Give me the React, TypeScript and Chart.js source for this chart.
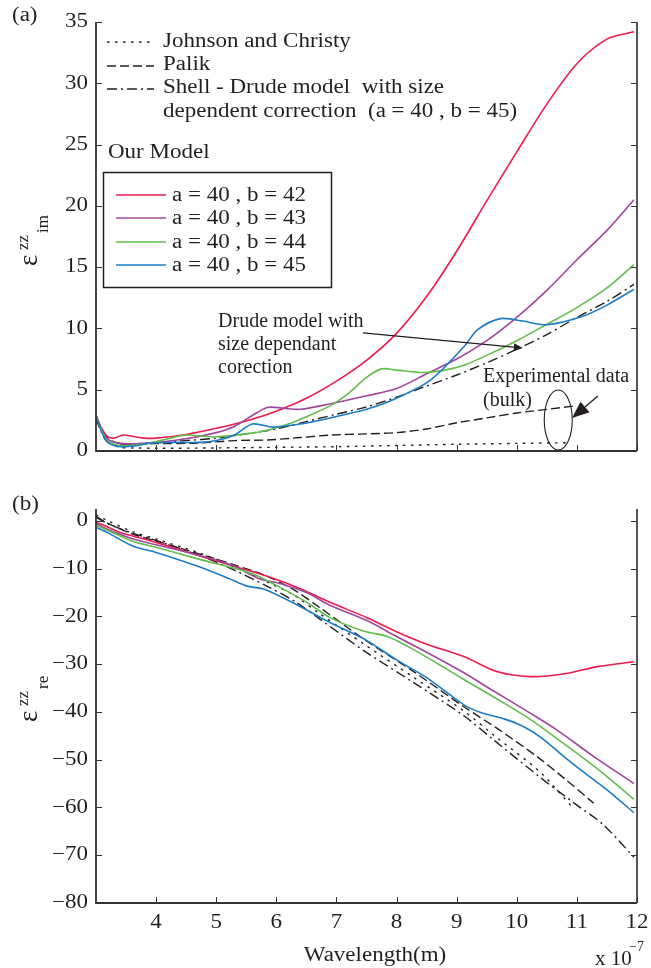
import React, { useEffect, useRef } from "react";
import { Chart, registerables } from "chart.js";

Chart.register(...registerables);

// ---------------- DATA (wavelength in units of 1e-7 m) ----------------
const xTickValues = [4, 5, 6, 7, 8, 9, 10, 11, 12];
const yTickValuesIm = [0, 5, 10, 15, 20, 25, 30, 35];
const yTickValuesRe = [-80, -70, -60, -50, -40, -30, -20, -10, 0];

// (a) imaginary part
const imB42 = [[3.0, 2.9], [3.1, 1.8], [3.2, 1.15], [3.3, 1.05], [3.45, 1.3], [3.6, 1.2], [3.8, 1.05], [4.0, 1.05], [4.5, 1.35], [5.0, 1.85], [5.5, 2.45], [6.0, 3.25], [6.5, 4.3], [7.0, 5.7], [7.5, 7.4], [8.0, 9.6], [8.5, 12.6], [9.0, 16.3], [9.5, 20.4], [10.0, 24.4], [10.5, 28.3], [11.0, 31.6], [11.5, 33.6], [11.95, 34.2]];
const imB43 = [[3.0, 2.9], [3.1, 1.7], [3.2, 0.95], [3.4, 0.62], [3.7, 0.6], [4.0, 0.7], [4.5, 1.0], [5.0, 1.5], [5.3, 2.0], [5.6, 2.9], [5.85, 3.55], [6.1, 3.5], [6.4, 3.4], [6.9, 3.85], [7.5, 4.5], [8.0, 5.1], [8.5, 6.3], [9.0, 7.5], [9.5, 9.0], [10.0, 10.9], [10.5, 13.1], [11.0, 15.6], [11.5, 18.0], [11.95, 20.5]];
const imB44 = [[3.0, 2.9], [3.1, 1.6], [3.2, 0.8], [3.4, 0.45], [3.7, 0.5], [3.9, 0.65], [4.2, 1.0], [4.5, 1.3], [4.8, 1.2], [5.0, 1.15], [5.5, 1.4], [5.85, 1.7], [6.2, 2.2], [6.5, 2.8], [6.9, 3.7], [7.2, 4.7], [7.5, 6.0], [7.75, 6.7], [8.0, 6.6], [8.45, 6.4], [8.8, 6.6], [9.12, 7.0], [9.5, 7.8], [10.0, 9.0], [10.45, 10.2], [11.0, 11.7], [11.5, 13.3], [11.95, 15.2]];
const imB45 = [[3.0, 2.9], [3.1, 1.5], [3.2, 0.7], [3.4, 0.35], [3.7, 0.45], [3.9, 0.65], [4.3, 0.7], [4.74, 0.7], [5.0, 0.85], [5.3, 1.3], [5.6, 2.2], [5.95, 1.95], [6.4, 2.2], [6.9, 2.7], [7.5, 3.4], [8.0, 4.3], [8.57, 5.8], [9.12, 8.5], [9.35, 9.9], [9.73, 10.8], [10.1, 10.6], [10.5, 10.3], [11.1, 11.0], [11.5, 11.9], [11.95, 13.2]];
const imShell = [[3.0, 2.7], [3.1, 1.4], [3.2, 0.7], [3.4, 0.5], [3.8, 0.6], [4.5, 0.85], [5.0, 1.05], [5.5, 1.4], [6.0, 1.8], [6.5, 2.4], [7.0, 3.0], [7.5, 3.6], [8.0, 4.4], [8.5, 5.3], [9.0, 6.2], [9.5, 7.2], [10.0, 8.3], [10.5, 9.5], [11.0, 10.9], [11.5, 12.2], [11.95, 13.6]];
const imPalik = [[3.0, 2.5], [3.15, 1.3], [3.3, 0.75], [3.6, 0.55], [4.0, 0.6], [4.7, 0.65], [5.3, 0.85], [5.85, 0.9], [6.4, 1.1], [6.9, 1.3], [7.5, 1.4], [8.0, 1.5], [8.5, 1.8], [9.0, 2.3], [9.5, 2.7], [10.0, 3.1], [10.5, 3.4], [11.0, 3.7]];
const imJC = [[3.2, 0.7], [3.4, 0.3], [3.7, 0.25], [4.0, 0.22], [5.0, 0.25], [6.0, 0.3], [7.0, 0.35], [8.0, 0.45], [9.0, 0.55], [10.0, 0.62], [10.9, 0.68]];

// (b) real part
const reB42 = [[3.0, -0.3], [3.2, -1.3], [3.4, -2.4], [3.62, -3.2], [4.0, -4.5], [4.74, -7.4], [5.3, -9.5], [5.85, -11.6], [6.4, -14.2], [6.9, -17.1], [7.5, -20.2], [8.0, -23.2], [8.5, -25.8], [9.12, -28.4], [9.68, -31.6], [10.23, -32.6], [10.8, -32.0], [11.34, -30.5], [11.95, -29.5]];
const reB43 = [[3.0, -0.5], [3.2, -1.8], [3.62, -3.8], [4.0, -5.0], [4.46, -6.4], [5.0, -8.2], [5.3, -9.5], [5.74, -12.2], [6.0, -12.9], [6.5, -15.0], [6.9, -17.7], [7.5, -20.8], [8.0, -24.2], [8.5, -27.5], [9.12, -31.8], [9.6, -35.5], [10.23, -40.3], [10.67, -43.8], [11.3, -49.5], [11.95, -55.0]];
const reB44 = [[3.0, -0.9], [3.2, -2.0], [3.62, -4.3], [4.0, -5.5], [4.74, -8.1], [5.57, -10.9], [6.0, -13.5], [6.5, -17.0], [6.9, -20.3], [7.46, -23.1], [7.85, -24.2], [8.29, -27.0], [8.7, -30.0], [9.12, -33.2], [9.7, -37.5], [10.23, -41.6], [10.8, -46.8], [11.4, -52.5], [11.95, -58.3]];
const reB45 = [[3.0, -1.3], [3.2, -2.5], [3.62, -5.3], [4.0, -6.6], [4.74, -9.7], [5.2, -12.0], [5.5, -13.6], [5.8, -14.3], [6.3, -17.3], [6.9, -21.3], [7.5, -25.0], [8.0, -29.1], [8.5, -32.8], [9.12, -38.5], [9.4, -40.1], [9.8, -41.5], [10.1, -43.0], [10.4, -45.3], [10.8, -49.5], [11.1, -52.5], [11.5, -56.3], [11.95, -61.1]];
const reShell = [[3.0, 0.8], [3.2, -0.6], [3.62, -2.6], [4.0, -4.1], [4.74, -7.3], [5.3, -10.3], [5.85, -13.7], [6.3, -16.8], [6.73, -20.6], [7.46, -27.2], [8.29, -33.9], [9.12, -40.8], [9.63, -46.0], [10.38, -53.6], [11.0, -59.5], [11.43, -63.5], [11.95, -70.4]];
const rePalik = [[3.0, 1.0], [3.2, -0.5], [3.62, -2.8], [4.0, -4.2], [4.74, -7.0], [5.3, -9.2], [5.85, -11.6], [6.3, -14.5], [6.73, -18.2], [7.46, -24.8], [8.29, -31.6], [9.12, -38.9], [9.68, -43.5], [10.3, -49.0], [10.8, -54.0], [11.28, -59.1]];
const reJC = [[3.0, 1.3], [3.2, 0.0], [3.62, -2.3], [4.0, -3.8], [4.74, -6.8], [5.3, -9.6], [5.85, -12.8], [6.3, -15.6], [6.73, -19.5], [7.46, -25.8], [8.29, -32.8], [9.12, -39.8], [9.63, -45.0], [10.38, -52.5], [10.95, -60.3]];

// Text
const refLabels = ["Johnson and Christy", "Palik", "Shell - Drude model  with size", "dependent correction  (a = 40 , b = 45)"];
const modelTitle = "Our Model";
const modelLabels = ["a = 40 , b = 42", "a = 40 , b = 43", "a = 40 , b = 44", "a = 40 , b = 45"];
const drudeNote = ["Drude model with", "size dependant", "corection"];
const expNote = ["Experimental data", "(bulk)"];
const xTitle = "Wavelength(m)";

// ---------------- STYLE ----------------
const FONT = '"Liberation Serif", "Times New Roman", serif';
const INK = "#231f20";
const AXIS = "#333333";
const C42 = "#ec1b4b";
const C43 = "#a1459d";
const C44 = "#62bd4d";
const C45 = "#1c7cc6";
const DOT = [2.5, 5.5];
const DASH = [9, 4];
const DASHDOT = [10, 4, 2, 4];
const SX = 1.15;

const mk = (pts: number[][], color: string, dash: number[], order: number, width = 1.6) => ({
  data: pts.map(([x, y]) => ({ x, y })),
  borderColor: color,
  borderWidth: width,
  borderDash: dash,
  pointRadius: 0,
  pointHoverRadius: 0,
  fill: false,
  showLine: true,
  tension: 0.3,
  order,
});

function sText(ctx: CanvasRenderingContext2D, str: string, x: number, y: number, align: CanvasTextAlign = "left", size = 20, sx = SX) {
  ctx.save();
  ctx.translate(x, y);
  ctx.scale(sx, 1);
  ctx.font = `${size}px ${FONT}`;
  ctx.fillStyle = INK;
  ctx.textAlign = align;
  ctx.textBaseline = "middle";
  ctx.fillText(str, 0, 0);
  ctx.restore();
}

function arrow(ctx: CanvasRenderingContext2D, x1: number, y1: number, x2: number, y2: number, headLen: number, headW: number, lw = 1.2) {
  const a = Math.atan2(y2 - y1, x2 - x1);
  const bx = x2 - headLen * Math.cos(a);
  const by = y2 - headLen * Math.sin(a);
  ctx.save();
  ctx.strokeStyle = INK;
  ctx.fillStyle = INK;
  ctx.lineWidth = lw;
  ctx.setLineDash([]);
  ctx.beginPath();
  ctx.moveTo(x1, y1);
  ctx.lineTo(bx, by);
  ctx.stroke();
  const nx = -Math.sin(a) * headW / 2;
  const ny = Math.cos(a) * headW / 2;
  ctx.beginPath();
  ctx.moveTo(x2, y2);
  ctx.lineTo(bx + nx, by + ny);
  ctx.lineTo(bx - nx, by - ny);
  ctx.closePath();
  ctx.fill();
  ctx.restore();
}

function drawFrame(chart: any, yTicks: number[], showXLabels: boolean) {
  const { ctx, chartArea } = chart;
  const { left, right, top, bottom } = chartArea;
  const xs = chart.scales.x;
  const ys = chart.scales.y;
  ctx.save();
  ctx.setLineDash([]);
  ctx.strokeStyle = AXIS;
  ctx.lineWidth = 1.8;
  ctx.beginPath();
  ctx.moveTo(left, top);
  ctx.lineTo(left, bottom);
  ctx.lineTo(right, bottom);
  ctx.stroke();
  ctx.strokeStyle = "#555555";
  ctx.lineWidth = 2;
  ctx.beginPath();
  ctx.moveTo(right, top);
  ctx.lineTo(right, bottom);
  ctx.stroke();
  ctx.strokeStyle = AXIS;
  ctx.lineWidth = 1;
  ctx.beginPath();
  for (const v of xTickValues) {
    const px = Math.round(xs.getPixelForValue(v)) + 0.5;
    ctx.moveTo(px, bottom);
    ctx.lineTo(px, bottom - 6);
  }
  for (const v of yTicks) {
    const py = Math.round(ys.getPixelForValue(v)) + 0.5;
    ctx.moveTo(left, py);
    ctx.lineTo(left + 6, py);
    ctx.moveTo(right, py);
    ctx.lineTo(right - 6, py);
  }
  ctx.stroke();
  ctx.restore();
  for (const v of yTicks) {
    const py = ys.getPixelForValue(v);
    const lbl = v < 0 ? "\u2212" + Math.abs(v) : String(v);
    sText(ctx, lbl, left - 8, py, "right", 20);
  }
  if (showXLabels) {
    for (const v of xTickValues) {
      sText(ctx, String(v), xs.getPixelForValue(v), bottom + 20, "center", 20);
    }
  }
}

function yTitle(ctx: CanvasRenderingContext2D, x: number, y: number, sub: string) {
  ctx.save();
  ctx.translate(x, y);
  ctx.rotate(-Math.PI / 2);
  ctx.fillStyle = INK;
  ctx.textBaseline = "alphabetic";
  ctx.textAlign = "left";
  ctx.font = `27px ${FONT}`;
  ctx.fillText("\u03b5", 0, 0);
  ctx.font = `17px ${FONT}`;
  ctx.fillText("zz", 16, -9);
  ctx.fillText(sub, 33, 11);
  ctx.restore();
}

const topPlugin = {
  id: "topDeco",
  afterDraw(chart: any) {
    const ctx: CanvasRenderingContext2D = chart.ctx;
    const xs = chart.scales.x;
    const ys = chart.scales.y;
    const X = (v: number) => xs.getPixelForValue(v);
    const Y = (v: number) => ys.getPixelForValue(v);
    drawFrame(chart, yTickValuesIm, false);
    sText(ctx, "(a)", 12, 16, "left", 20);
    yTitle(ctx, 37, 266, "im");

    // reference legend
    const refDash = [DOT, DASH, DASHDOT];
    const refY = [42, 66, 89];
    ctx.save();
    ctx.strokeStyle = INK;
    ctx.lineWidth = 1.4;
    refDash.forEach((d, i) => {
      ctx.setLineDash(d);
      ctx.beginPath();
      ctx.moveTo(107, refY[i]);
      ctx.lineTo(154, refY[i]);
      ctx.stroke();
    });
    ctx.restore();
    sText(ctx, refLabels[0], 163, 42);
    sText(ctx, refLabels[1], 163, 65);
    sText(ctx, refLabels[2], 163, 88);
    sText(ctx, refLabels[3], 163, 112);
    sText(ctx, modelTitle, 108, 153);

    // model legend box
    ctx.save();
    ctx.setLineDash([]);
    ctx.strokeStyle = INK;
    ctx.lineWidth = 1.5;
    ctx.strokeRect(103.5, 172.5, 228, 115);
    const cols = [C42, C43, C44, C45];
    const ly = [195, 218, 242, 265];
    ctx.lineWidth = 1.6;
    cols.forEach((c, i) => {
      ctx.strokeStyle = c;
      ctx.beginPath();
      ctx.moveTo(116, ly[i]);
      ctx.lineTo(166, ly[i]);
      ctx.stroke();
    });
    ctx.restore();
    modelLabels.forEach((t, i) => sText(ctx, t, 172, ly[i] + 1));

    // Drude annotation
    sText(ctx, drudeNote[0], X(5.03), Y(10.56), "left", 20, 1);
    sText(ctx, drudeNote[1], X(5.03), Y(8.65), "left", 20, 1);
    sText(ctx, drudeNote[2], X(5.03), Y(6.77), "left", 20, 1);
    arrow(ctx, X(7.44), Y(9.63), X(10.1), Y(8.4), 9, 8, 1.2);

    // experimental annotation
    sText(ctx, expNote[0], X(9.44), Y(6.04), "left", 20, 1);
    sText(ctx, expNote[1], X(9.44), Y(4.08), "left", 20, 1);
    ctx.save();
    ctx.setLineDash([]);
    ctx.strokeStyle = INK;
    ctx.lineWidth = 1.1;
    ctx.beginPath();
    ctx.ellipse(X(10.69), Y(2.53), 14, 30, 0, 0, Math.PI * 2);
    ctx.stroke();
    ctx.restore();
    arrow(ctx, X(11.35), Y(4.49), X(10.92), Y(2.69), 17, 14, 1.4);
  },
};

const bottomPlugin = {
  id: "bottomDeco",
  afterDraw(chart: any) {
    const ctx: CanvasRenderingContext2D = chart.ctx;
    const { bottom } = chart.chartArea;
    drawFrame(chart, yTickValuesRe, true);
    sText(ctx, "(b)", 12, 25, "left", 20);
    yTitle(ctx, 37, 242, "re");
    sText(ctx, xTitle, 375, 476, "center", 20);
    sText(ctx, "x 10", 595, bottom + 57, "left", 20, 1.05);
    sText(ctx, "\u22127", 629, bottom + 44, "left", 14, 1);
  },
};

function makeOptions(yMin: number, yMax: number, yTicks: number[], padTop: number, xAxisH: number) {
  return {
    responsive: false,
    maintainAspectRatio: false,
    animation: false,
    devicePixelRatio: 1,
    events: [],
    layout: { padding: { top: padTop, right: 14, left: 0, bottom: 0 } },
    plugins: { legend: { display: false }, tooltip: { enabled: false }, title: { display: false } },
    scales: {
      x: {
        type: "linear",
        min: 3,
        max: 12,
        grid: { display: false },
        border: { display: false },
        ticks: { display: false },
        afterBuildTicks: (s: any) => { s.ticks = xTickValues.map((v) => ({ value: v })); },
        afterFit: (s: any) => { s.height = xAxisH; },
      },
      y: {
        type: "linear",
        min: yMin,
        max: yMax,
        grid: { display: false },
        border: { display: false },
        ticks: { display: false },
        afterBuildTicks: (s: any) => { s.ticks = yTicks.map((v) => ({ value: v })); },
        afterFit: (s: any) => { s.width = 96; },
      },
    },
  };
}

export default function App() {
  const topRef = useRef<HTMLCanvasElement>(null);
  const botRef = useRef<HTMLCanvasElement>(null);

  useEffect(() => {
    const top = new Chart(topRef.current as HTMLCanvasElement, {
      type: "line",
      data: {
        datasets: [
          mk(imJC, INK, DOT, 7, 1.4),
          mk(imPalik, INK, DASH, 6, 1.4),
          mk(imShell, INK, DASHDOT, 5, 1.4),
          mk(imB42, C42, [], 4),
          mk(imB43, C43, [], 3),
          mk(imB44, C44, [], 2),
          mk(imB45, C45, [], 1),
        ] as any,
      },
      options: makeOptions(0, 35, yTickValuesIm, 22, 29) as any,
      plugins: [topPlugin],
    });
    const bot = new Chart(botRef.current as HTMLCanvasElement, {
      type: "line",
      data: {
        datasets: [
          mk(reJC, INK, DOT, 7, 1.4),
          mk(rePalik, INK, DASH, 6, 1.4),
          mk(reShell, INK, DASHDOT, 5, 1.4),
          mk(reB42, C42, [], 4),
          mk(reB43, C43, [], 3),
          mk(reB44, C44, [], 2),
          mk(reB45, C45, [], 1),
        ] as any,
      },
      options: makeOptions(-80, 2.5, yTickValuesRe, 29, 65) as any,
      plugins: [bottomPlugin],
    });
    return () => {
      top.destroy();
      bot.destroy();
    };
  }, []);

  return (
    <div style={{ position: "absolute", left: 0, top: 0, width: 651, height: 968, background: "#fff" }}>
      <canvas ref={topRef} width={651} height={480} style={{ position: "absolute", left: 0, top: 0, width: 651, height: 480 }} />
      <canvas ref={botRef} width={651} height={488} style={{ position: "absolute", left: 0, top: 480, width: 651, height: 488 }} />
    </div>
  );
}
